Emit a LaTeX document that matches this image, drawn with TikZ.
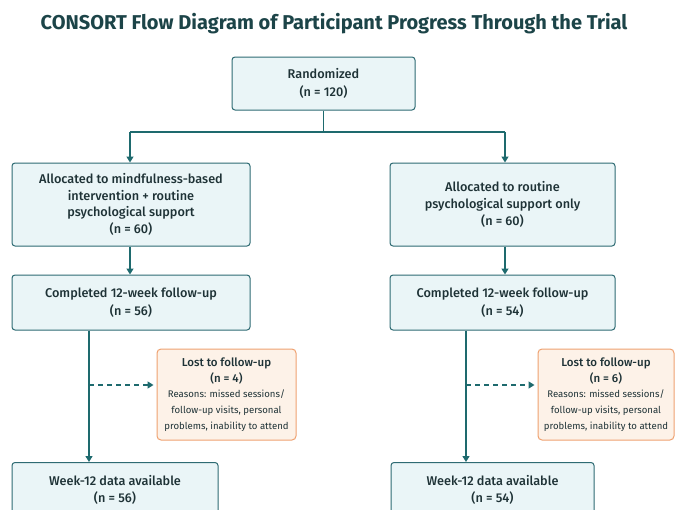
\documentclass[tikz,border=0pt]{standalone}
\usepackage{fontspec}
\setmainfont{Fira Sans}
\newfontfamily\medfont{Fira Sans Medium}
\usetikzlibrary{arrows.meta,calc}
\definecolor{boxfill}{HTML}{EAF5F7}
\definecolor{boxline}{HTML}{2E6B73}
\definecolor{arrowc}{HTML}{1E6A6E}
\definecolor{txt}{HTML}{1E3236}
\definecolor{titlec}{HTML}{1C4448}
\definecolor{lostfill}{HTML}{FDF2E8}
\definecolor{lostline}{HTML}{EFA271}
\tikzset{
  bluebox/.style={draw=boxline, line width=1pt, fill=boxfill, rounded corners=3pt, align=center, text=txt, font=\medfont\fontsize{12.7}{17.5}\selectfont, inner sep=2pt},
  lostbox/.style={draw=lostline, line width=1pt, fill=lostfill, rounded corners=4pt, align=center, text=txt, font=\medfont\fontsize{11.5}{16}\selectfont, inner sep=2pt, minimum width=139pt, minimum height=91pt},
  arr/.style={draw=arrowc, line width=1.3pt, -{Triangle[length=6pt,width=7pt]}},
  plainline/.style={draw=arrowc, line width=1.3pt},
  dasharr/.style={draw=arrowc, line width=1.3pt, dash pattern=on 5pt off 4pt, -{Triangle[length=6pt,width=7pt]}}
}
\newcommand{\rsn}[1]{{\rmfamily\fontsize{9.6}{14.5}\selectfont #1}}
\begin{document}
\begin{tikzpicture}[x=1pt,y=-1pt]
\useasboundingbox (0,0) rectangle (675,509);
\clip (0,0) rectangle (675,509);
\fill[white] (0,0) rectangle (675,509);
\node[font=\fontsize{20}{24}\selectfont\bfseries, text=titlec] (title) at (334,24) {CONSORT Flow Diagram of Participant Progress Through the Trial};

\node[bluebox, minimum width=183pt, minimum height=53pt] (rand) at (323.5,83.5) {Randomized\\(n = 120)};
\node[bluebox, minimum width=238pt, minimum height=83pt, font=\medfont\fontsize{12.7}{16.5}\selectfont] (allocL) at (131,204.5) {Allocated to mindfulness-based\\intervention + routine\\psychological support\\(n = 60)};
\node[bluebox, minimum width=225pt, minimum height=83pt, font=\medfont\fontsize{12.7}{17}\selectfont] (allocR) at (502.5,204.5) {Allocated to routine\\psychological support only\\(n = 60)};
\node[bluebox, minimum width=238pt, minimum height=55pt, font=\medfont\fontsize{12.7}{18}\selectfont] (compL) at (131,302.5) {Completed 12-week follow-up\\(n = 56)};
\node[bluebox, minimum width=225pt, minimum height=55pt, font=\medfont\fontsize{12.7}{18}\selectfont] (compR) at (502.5,302.5) {Completed 12-week follow-up\\(n = 54)};
\node[lostbox] (lostL) at (226.5,394.5) {Lost to follow-up\\(n = 4)\\[-1pt]\rsn{Reasons: missed sessions/}\\\rsn{follow-up visits, personal}\\\rsn{problems, inability to attend}};
\node[lostbox, minimum width=136pt] (lostR) at (606,394.5) {Lost to follow-up\\(n = 6)\\[-1pt]\rsn{Reasons: missed sessions/}\\\rsn{follow-up visits, personal}\\\rsn{problems, inability to attend}};
\node[bluebox, minimum width=206pt, minimum height=55pt, font=\medfont\fontsize{12.7}{17}\selectfont] (weekL) at (115,490) {Week-12 data available\\(n = 56)};
\node[bluebox, minimum width=203pt, minimum height=55pt, font=\medfont\fontsize{12.7}{17}\selectfont] (weekR) at (492.5,490) {Week-12 data available\\(n = 54)};

\coordinate (split) at (323.5,132);
\coordinate (brL) at (130,132);
\coordinate (brR) at (505,132);
\coordinate (vL) at (89,0);
\coordinate (vR) at (466,0);
\coordinate (dashy) at (0,385);

\draw[plainline] (rand.south) -- (split);
\draw[plainline] (brL) -- (brR);
\draw[arr] (brL) -- (brL |- allocL.north);
\draw[arr] (brR) -- (brR |- allocR.north);
\draw[arr] (allocL.south -| brL) -- (compL.north -| brL);
\draw[arr] (allocR.south -| brR) -- (compR.north -| brR);
\draw[arr] (compL.south -| vL) -- (weekL.north -| vL);
\draw[arr] (compR.south -| vR) -- (weekR.north -| vR);
\draw[dasharr] (vL |- dashy) -- ([xshift=-3pt]lostL.west |- dashy);
\draw[dasharr] (vR |- dashy) -- ([xshift=-3pt]lostR.west |- dashy);
\end{tikzpicture}
\end{document}
